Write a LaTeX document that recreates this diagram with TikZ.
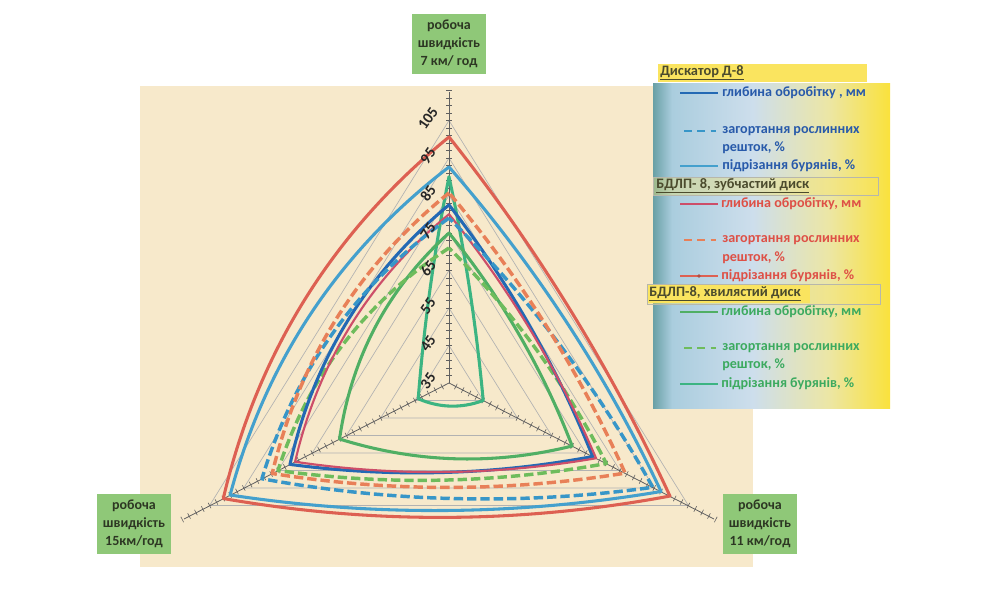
\documentclass[tikz,border=0pt]{standalone}
\usepackage{fontspec}
\setmainfont{Carlito}
\usetikzlibrary{calc}
\definecolor{beige}{RGB}{247,233,203}
\definecolor{axgreen}{RGB}{143,200,120}
\definecolor{axtext}{RGB}{45,55,35}
\definecolor{cred}{RGB}{221,96,82}
\definecolor{clblue}{RGB}{68,160,205}
\definecolor{cdblue}{RGB}{35,105,180}
\definecolor{cbdash}{RGB}{55,150,200}
\definecolor{cpink}{RGB}{205,78,105}
\definecolor{corange}{RGB}{232,128,88}
\definecolor{cgdash}{RGB}{110,188,92}
\definecolor{cgmed}{RGB}{80,175,100}
\definecolor{cgnar}{RGB}{60,180,130}
\definecolor{tblue}{RGB}{40,90,170}
\definecolor{tred}{RGB}{222,80,70}
\definecolor{tgreen}{RGB}{60,170,95}
\definecolor{hdrtext}{RGB}{75,75,45}
\definecolor{hdryellow}{RGB}{250,228,95}
\definecolor{lg0}{RGB}{105,160,165}
\definecolor{lg1}{RGB}{170,205,222}
\definecolor{lg2}{RGB}{205,222,236}
\definecolor{lg3}{RGB}{236,230,165}
\definecolor{lg4}{RGB}{250,226,60}
\pgfdeclarehorizontalshading{legshade}{100bp}{color(0bp)=(lg0); color(25bp)=(lg0); color(29bp)=(lg1); color(46bp)=(lg2); color(62bp)=(lg3); color(75bp)=(lg4); color(100bp)=(lg4)}
\newcommand\radarcurve[7]{%
 \coordinate (T) at (449,{383-3.75*(#2-35)});
 \coordinate (L) at ({449-3.42*(#3-35)},{383+1.75*(#3-35)});
 \coordinate (R) at ({449+3.42*(#4-35)},{383+1.75*(#4-35)});
 \coordinate (a1) at ($(T)!1/3!(L)$); \coordinate (a2) at ($(T)!2/3!(L)$);
 \coordinate (b1) at ($(L)!1/3!(R)$); \coordinate (b2) at ($(L)!2/3!(R)$);
 \coordinate (d1) at ($(R)!1/3!(T)$); \coordinate (d2) at ($(R)!2/3!(T)$);
 \draw[#1] (T) .. controls ($(a1)!#5!-90:(L)$) and ($(a2)!#5!90:(T)$) .. (L)
  .. controls ($(b1)!#6!-90:(R)$) and ($(b2)!#6!90:(L)$) .. (R)
  .. controls ($(d1)!#7!-90:(T)$) and ($(d2)!#7!90:(R)$) .. cycle;
}
\tikzset{
 gridl/.style={draw=gray!60, line width=0.5pt},
 axisl/.style={draw=gray!75!black, line width=0.6pt},
 tickl/.style={draw=gray!75!black, line width=0.45pt},
 curve/.style={line width=2.3pt, line join=round, line cap=round},
 dashc/.style={line width=2.6pt, dash pattern=on 7pt off 3pt, line join=round},
 numlbl/.style={font=\fontsize{11.5}{11.5}\selectfont\bfseries, text=black!85, rotate=55, inner sep=0pt},
 axbox/.style={fill=axgreen, text=axtext, align=center, font=\fontsize{10.5}{13.5}\selectfont\bfseries, minimum width=56pt, minimum height=45pt, inner sep=1pt},
 legtxt/.style={anchor=west, font=\fontsize{10.6}{11}\selectfont\bfseries, inner sep=0pt},
 hdrtxt/.style={anchor=west, font=\fontsize{10.8}{11}\selectfont\bfseries, text=hdrtext, inner sep=0pt},
 legsample/.style={line width=1.8pt}
}
\begin{document}
\begin{tikzpicture}[x=0.75pt,y=-0.75pt]
\useasboundingbox (0,0) rectangle (984,602);
\fill[white] (0,0) rectangle (984,602);
\fill[beige] (140,86) rectangle (753,567);
% grid
\foreach \v in {45,55,...,105} {
 \draw[gridl] (449,{383-3.75*(\v-35)}) -- ({449-3.42*(\v-35)},{383+1.75*(\v-35)}) -- ({449+3.42*(\v-35)},{383+1.75*(\v-35)}) -- cycle;
}
% axes
\coordinate (C) at (449,383);
\coordinate (AT) at (449,92);
\coordinate (AL) at (184,519);
\coordinate (AR) at (714,519);
\draw[axisl] (C) -- (AT);
\draw[axisl] (C) -- (AL);
\draw[axisl] (C) -- (AR);
\foreach \v in {37,39,...,113} {
 \draw[tickl] (446,{383-3.75*(\v-35)}) -- (452,{383-3.75*(\v-35)});
 \draw[tickl] ({449-3.42*(\v-35)-1.4},{383+1.75*(\v-35)-2.7}) -- ({449-3.42*(\v-35)+1.4},{383+1.75*(\v-35)+2.7});
 \draw[tickl] ({449+3.42*(\v-35)+1.4},{383+1.75*(\v-35)-2.7}) -- ({449+3.42*(\v-35)-1.4},{383+1.75*(\v-35)+2.7});
}
% curves
\radarcurve{curve, draw=cgnar}{90}{44}{45}{0.03}{0.2}{0.03}
\radarcurve{curve, draw=cgmed}{75}{67}{71}{0.18}{0.14}{0.08}
\radarcurve{dashc, draw=cgdash}{71}{85}{81}{0.18}{0.08}{0.08}
\radarcurve{curve, draw=cdblue}{82.5}{81.5}{77}{0.17}{0.08}{0.07}
\radarcurve{curve, line width=1.6pt, draw=cpink}{80}{80}{78}{0.17}{0.08}{0.07}
\radarcurve{dashc, draw=cbdash}{79}{89.7}{94.6}{0.17}{0.08}{0.07}
\radarcurve{dashc, draw=corange}{85.7}{86.7}{86.5}{0.17}{0.08}{0.07}
\radarcurve{curve, draw=clblue}{92.6}{99}{97}{0.17}{0.08}{0.07}
\radarcurve{curve, draw=cred}{100.6}{101}{99.6}{0.17}{0.09}{0.06}
% axis numbers
\foreach \v in {35,45,...,105} {
 \node[numlbl] (n\v) at (428,{381-3.75*(\v-35)}) {\v};
}
% axis titles
\node[axbox] (ax7) at (449,44) {робоча\\швидкість\\7 км/ год};
\node[axbox] (ax15) at (134,524) {робоча\\швидкість\\15км/год};
\node[axbox] (ax11) at (760,524) {робоча\\швидкість\\11 км/год};
% legend
\path[shading=legshade] (653,84) rectangle (890,408);
\fill[hdryellow] (658,64) rectangle (867,82);
\node[hdrtxt] (h1) at (660,73) {\underline{Дискатор Д-8}};
\draw[legsample, cdblue] (680,93) -- (718,93);
\node[legtxt, text=tblue] (e1) at (722,93) {глибина обробітку , мм};
\draw[legsample, cbdash, line width=2.2pt, dash pattern=on 6pt off 4pt] (684,131) -- (716,131);
\node[legtxt, text=tblue] (e2) at (722,131) {загортання рослинних};
\node[legtxt, text=tblue] (e2b) at (722,148) {решток, \%};
\draw[legsample, clblue] (680,166) -- (718,166);
\node[legtxt, text=tblue] (e3) at (722,166) {підрізання бурянів, \%};
\fill[hdryellow, opacity=0.35] (653,177) rectangle (878,195);
\draw[hdrtext!40, line width=0.4pt] (653,177) rectangle (878,195);
\node[hdrtxt] (h2) at (656,186) {\underline{БДЛП- 8, зубчастий диск}};
\draw[legsample, cpink] (680,204) -- (718,204);
\node[legtxt, text=tred] (e4) at (721,204) {глибина обробітку, мм};
\draw[legsample, corange, line width=2.2pt, dash pattern=on 6pt off 4pt] (684,240) -- (716,240);
\node[legtxt, text=tred] (e5) at (722,240) {загортання рослинних};
\node[legtxt, text=tred] (e5b) at (722,258) {решток, \%};
\draw[legsample, cred] (680,276) -- (718,276);
\fill[cred!80!black] (699,276) circle (1.8);
\node[legtxt, text=tred] (e6) at (721,276) {підрізання бурянів, \%};
\fill[hdryellow, opacity=0.35] (647,284) rectangle (880,304);
\draw[hdrtext!40, line width=0.4pt] (647,284) rectangle (880,304);
\fill[hdryellow] (648,285) rectangle (810,303);
\node[hdrtxt] (h3) at (649,294) {\underline{БДЛП-8, хвилястий диск}};
\draw[legsample, cgmed] (680,312) -- (718,312);
\node[legtxt, text=tgreen] (e7) at (721,312) {глибина обробітку, мм};
\draw[legsample, cgdash, line width=2.2pt, dash pattern=on 6pt off 4pt] (684,348) -- (716,348);
\node[legtxt, text=tgreen] (e8) at (722,348) {загортання рослинних};
\node[legtxt, text=tgreen] (e8b) at (722,365) {решток, \%};
\draw[legsample, cgnar] (680,384) -- (718,384);
\node[legtxt, text=tgreen] (e9) at (721,384) {підрізання бурянів, \%};
\end{tikzpicture}
\end{document}
